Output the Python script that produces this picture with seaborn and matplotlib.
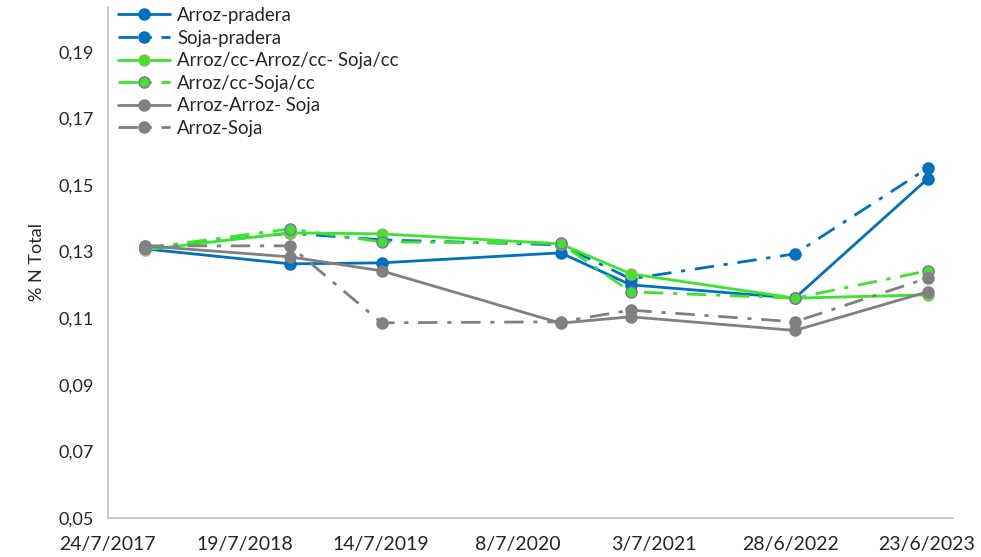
import matplotlib
matplotlib.use('Agg')
import matplotlib.pyplot as plt
import seaborn as sns
import pandas as pd

# Sampling dates
dates = ['2017-10-29', '2018-11-16', '2019-07-16', '2020-10-30',
         '2021-05-03', '2022-07-10', '2023-06-25']

arroz_pradera = [0.1308, 0.1263, 0.1266, 0.1296, 0.1200, 0.1160, 0.1518]
soja_pradera = [0.1310, 0.1355, 0.1335, 0.1320, 0.1218, 0.1293, 0.1550]
arrozcc_arrozcc_sojacc = [0.1305, 0.1356, 0.1353, 0.1323, 0.1233, 0.1160, 0.1170]
arrozcc_sojacc = [0.1310, 0.1368, 0.1329, 0.1325, 0.1179, 0.1160, 0.1242]
arroz_arroz_soja = [0.1317, 0.1284, 0.1242, 0.1085, 0.1104, 0.1063, 0.1179]
arroz_soja = [0.1317, 0.1317, 0.1086, 0.1089, 0.1124, 0.1089, 0.1220]

tick_dates = ['2017-07-24', '2018-07-19', '2019-07-14', '2020-07-08',
              '2021-07-03', '2022-06-28', '2023-06-23']
tick_labels = ['24/7/2017', '19/7/2018', '14/7/2019', '8/7/2020',
               '3/7/2021', '28/6/2022', '23/6/2023']
yticks = [0.05, 0.07, 0.09, 0.11, 0.13, 0.15, 0.17, 0.19]

blue = '#0070C0'
green = '#3AE52C'
gray = '#808080'
dashdot = (0, (7, 3.5, 1.5, 3.5))

series = [
    ('Arroz-pradera', arroz_pradera, blue, '-', blue),
    ('Soja-pradera', soja_pradera, blue, dashdot, blue),
    ('Arroz/cc-Arroz/cc- Soja/cc', arrozcc_arrozcc_sojacc, green, '-', '#A9B560'),
    ('Arroz/cc-Soja/cc', arrozcc_sojacc, green, dashdot, '#8E62B8'),
    ('Arroz-Arroz- Soja', arroz_arroz_soja, gray, '-', gray),
    ('Arroz-Soja', arroz_soja, gray, dashdot, gray),
]

sns.set_style('white')
plt.rcParams['font.family'] = ['Lato', 'DejaVu Sans']

fig = plt.figure(figsize=(9.81, 5.57), dpi=100)
ax = fig.add_axes([0.110, 0.070, 0.861, 0.918])

x = pd.to_datetime(dates)
for name, vals, color, ls, edge in series:
    sns.lineplot(x=x, y=vals, ax=ax, color=color, linewidth=2.0,
                 marker='o', markersize=8, markeredgecolor=edge,
                 markeredgewidth=1.0, label=name)
    ax.lines[-1].set_linestyle(ls)

ax.set_ylim(0.05, 0.2035)
ax.set_yticks(yticks)
ax.set_yticklabels([f'{v:.2f}'.replace('.', ',') for v in yticks], fontsize=13)

tx = pd.to_datetime(tick_dates)
ax.set_xlim(tx[0], pd.Timestamp('2023-08-30'))
ax.set_xticks(tx)
ax.set_xticklabels(tick_labels, fontsize=14)
ax.tick_params(axis='x', direction='in', length=5, color='#BFBFBF', pad=13)
ax.tick_params(axis='y', length=0, pad=10)

ax.set_xlabel('')
ax.set_ylabel('% N Total', fontsize=13, labelpad=10)

for s in ['top', 'right']:
    ax.spines[s].set_visible(False)
for s in ['left', 'bottom']:
    ax.spines[s].set_color('#BFBFBF')
    ax.spines[s].set_linewidth(1.2)

ax.legend(loc='upper left', bbox_to_anchor=(-0.004, 1.025), frameon=False,
          fontsize=13.4, handlelength=2.8, labelspacing=0.3,
          handletextpad=0.4, borderaxespad=0.3)

fig.savefig('out.png', dpi=100)
